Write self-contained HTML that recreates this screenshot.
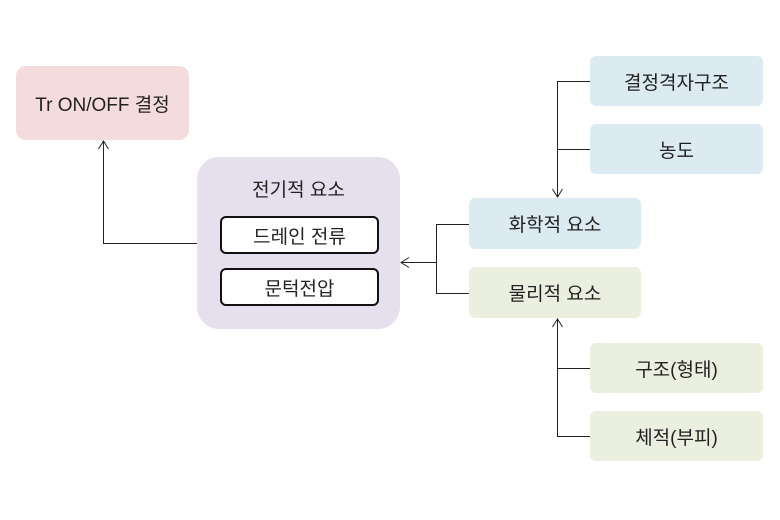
<!DOCTYPE html>
<html><head><meta charset="utf-8"><style>
body{margin:0;width:780px;height:520px;background:#fff;position:relative;overflow:hidden;font-family:"Liberation Sans","Noto Sans CJK KR",sans-serif;color:#222}
.b{position:absolute;display:flex;align-items:center;justify-content:center;font-size:19px;box-sizing:border-box}
svg{position:absolute;left:0;top:0}
</style></head><body>
<div class="b" style="left:16px;top:66px;width:173px;height:74px;background:#f4dcdc;border-radius:10px">Tr ON/OFF 결정</div>
<div class="b" style="left:197px;top:157px;width:203px;height:172px;background:#e6e0ee;border-radius:22px;align-items:flex-start;padding-top:18px">전기적 요소</div>
<div class="b" style="left:220px;top:216px;width:159px;height:38px;background:#fff;border:2px solid #111;border-radius:6px">드레인 전류</div>
<div class="b" style="left:220px;top:268px;width:159px;height:38px;background:#fff;border:2px solid #111;border-radius:6px">문턱전압</div>
<div class="b" style="left:590px;top:56px;width:173px;height:50px;background:#dcebf2;border-radius:6px">결정격자구조</div>
<div class="b" style="left:590px;top:124px;width:173px;height:50px;background:#dcebf2;border-radius:6px">농도</div>
<div class="b" style="left:469px;top:198px;width:172px;height:51px;background:#dcebf2;border-radius:6px">화학적 요소</div>
<div class="b" style="left:469px;top:267px;width:172px;height:51px;background:#ebefdf;border-radius:6px">물리적 요소</div>
<div class="b" style="left:590px;top:343px;width:173px;height:50px;background:#ebefdf;border-radius:6px">구조(형태)</div>
<div class="b" style="left:590px;top:411px;width:173px;height:50px;background:#ebefdf;border-radius:6px">체적(부피)</div>
<svg width="780" height="520" fill="none" stroke="#222" stroke-width="1">
<path d="M197 243.5H103.5V141"/><path d="M98.5 149L103.5 141L108.5 149"/>
<path d="M469 224.5H436.5V293.5H469M436.5 262.5H401"/><path d="M409 257.5L401 262.5L409 267.5"/>
<path d="M590 81.5H557.5V197M590 149.5H557.5"/><path d="M552.5 189L557.5 197L562.5 189"/>
<path d="M590 368.5H557.5M590 436.5H557.5V319"/><path d="M552.5 327L557.5 319L562.5 327"/>
</svg>
</body></html>
